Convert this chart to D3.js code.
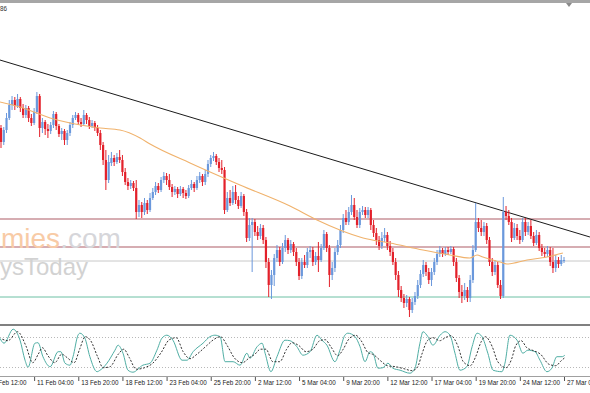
<!DOCTYPE html>
<html><head><meta charset="utf-8">
<script src="https://cdn.jsdelivr.net/npm/d3@7"></script>
<style>body{margin:0;background:#fff;}svg{display:block}</style>
</head><body><svg id="c" width="590" height="393"></svg>
<script>
// ---- data (H4 bars, price in chart points) ----
const open=[272,258,270,282,295,300,294,301,292,285,292,282,277,288,304,272,278,271,269,275,286,274,266,269,260,267,275,282,285,278,276,285,280,274,277,272,267,255,240,220,237,242,238,243,240,228,218,214,217,212,188,195,188,197,190,202,208,214,210,220,224,220,213,208,211,206,211,207,204,212,216,212,220,224,218,226,236,242,244,238,232,230,190,202,197,208,200,194,204,188,162,175,178,168,164,172,160,138,115,125,142,150,138,152,160,150,156,148,138,124,138,135,148,150,138,144,140,152,166,152,125,132,148,155,170,182,178,188,195,183,175,188,190,185,190,175,167,160,154,162,165,154,148,138,125,110,102,97,101,90,98,104,115,126,135,128,120,128,138,146,150,146,150,148,151,138,122,108,104,110,102,120,150,178,172,168,174,160,138,128,135,115,104,188,184,178,162,172,164,160,178,168,174,164,157,165,152,148,146,150,138,132,140,136,139];
const high=[275,273,287,300,304,303,306,303,296,295,294,286,292,308,306,282,280,276,278,289,288,276,272,271,270,278,285,288,287,282,290,287,283,280,279,275,270,258,250,245,248,245,247,250,245,232,222,220,219,220,200,198,202,200,207,212,218,217,223,228,227,226,216,214,213,214,213,210,215,220,218,224,228,226,230,240,245,248,246,242,240,233,208,210,214,215,204,208,206,191,182,182,181,174,176,175,163,142,130,146,155,153,157,165,162,160,158,152,142,142,145,152,154,153,148,158,156,170,168,155,138,152,160,175,186,190,193,205,202,190,192,194,193,193,192,180,172,164,168,172,168,159,152,142,129,114,106,105,103,102,108,120,130,140,138,132,132,142,150,154,152,153,153,154,153,142,125,115,117,113,125,155,197,182,180,178,177,163,142,140,138,120,203,194,190,182,177,176,170,182,182,178,180,168,170,168,156,152,154,153,152,145,143,145,143];
const low=[252,255,267,280,290,290,292,288,282,282,278,274,275,286,263,267,265,262,266,272,270,263,260,255,255,264,272,280,275,273,274,276,271,272,269,264,250,235,210,217,234,234,236,237,224,215,210,211,209,181,183,182,185,186,188,200,205,207,208,217,215,210,203,205,202,204,202,201,202,210,208,210,217,214,215,223,233,239,235,228,226,186,188,194,195,196,191,192,184,158,159,128,164,160,161,156,132,103,101,114,138,134,136,148,146,147,144,134,120,121,132,132,142,134,135,128,138,150,148,113,120,128,145,152,167,175,175,185,180,172,172,185,182,182,170,163,155,150,151,158,150,144,135,120,103,98,92,93,83,87,95,101,112,123,124,116,114,125,135,143,143,144,145,146,134,118,102,97,100,98,98,117,148,168,164,164,156,134,124,125,112,101,102,180,175,158,160,160,156,158,164,165,161,154,155,149,144,143,143,134,127,128,132,134,137];
const close=[258,270,282,295,300,294,301,292,285,292,282,277,288,304,272,278,271,269,275,286,274,266,269,260,267,275,282,285,278,276,285,280,274,277,272,267,255,240,220,238,242,238,243,240,228,218,214,217,212,188,195,188,197,190,202,208,214,210,220,224,220,213,208,211,206,211,207,204,212,216,212,220,224,218,226,236,242,244,238,232,230,190,202,197,208,200,194,204,188,162,175,178,168,164,172,160,138,115,125,142,150,138,152,160,150,156,148,138,124,138,135,148,150,138,144,140,152,166,152,125,132,148,155,170,182,178,188,195,183,175,188,190,185,190,175,167,160,154,162,165,154,148,138,125,110,102,97,101,90,98,104,115,126,135,128,120,128,138,146,150,146,150,148,151,138,122,108,104,110,102,120,150,178,172,168,174,160,138,128,135,115,104,188,184,178,162,172,164,160,178,168,174,164,157,165,152,148,146,150,138,132,140,136,140,140];

// moving average, read at sample bars
const maBar=[-0.4,6.9,17.8,35.9,43.1,50.4,54,68.5,86.6,104.7,114.5,122.8,131.2,140.9,152.9,162.7,169.9,172.5,174.6,180.8,183.3,190.6,197.8,203.6];
const maVal=[298,293,282,272,270,262,256,237,215,194,180,170,162,157,150,145,142,145,143,138,136,140,143,147];

// horizontal levels and trend line
const levels=[181,153,139,103];
const trendBar=[-0.4,213.4];
const trendVal=[340,163];

// stochastic %K / %D samples
const kBar=[-0.4,1.1,4.4,6.9,8.7,9.8,12.3,13.4,15.2,17.8,20.7,21.7,23.2,25,26.1,27.9,28.6,30.4,32.2,34.8,35.9,38.4,41.3,42.4,44.2,46,47.8,51.4,54,56.5,58.3,60.1,62.3,65.6,67.4,69.6,73.2,75.7,77.5,79.4,81.2,84.1,86.6,89.1,90.2,92.8,94.6,95.7,97.8,100,102.9,104.7,107.2,109.4,112,114.5,116.3,118.1,121,122.8,124.6,125.7,128.3,130.1,131.9,133.7,134.8,136.6,138.4,140.2,142,144.6,148.2,150,151.8,152.9,154.7,156.5,159.1,160.9,162.7,164.5,166.3,168.8,170.7,172.5,174.3,176.4,178.3,181.5,182.6,184.4,187,189.1,190.9,193.5,195.3,197.8,199.6,201.4,203.3,204.3];
const kVal=[77,67,95,73,33,19,67,68,40,20,50,50,27,23,40,83,87,77,40,10,13,27,53,63,47,13,9,23,27,53,77,83,73,33,33,50,67,80,83,80,30,30,23,47,37,60,67,47,10,40,73,72,60,43,50,83,73,63,30,53,83,87,80,60,30,50,47,17,18,27,17,13,7,17,67,90,80,63,83,90,83,47,13,20,60,87,80,47,13,10,27,83,73,47,53,50,33,10,17,40,40,43];
const dBar=[0.5,2.5,6,9,11.5,13.5,15,17,19.5,22,24,26.5,28.5,30.5,32.5,35,37,39.5,42.5,44.5,46.5,49,52,55,58,61,63.5,66,68.5,71,74.5,77,79.5,82,84.5,87.5,90,92,94,96,98.5,101,103.5,105.5,108,110.5,113,115.5,117.5,119.5,122,124,126,128.5,130.5,133,135,137.5,140,143,146,149,151,152.5,154.5,156.5,159,161,163,165.5,167.5,170,172,174,175.5,178,180,183,185,186.5,188.5,190.5,193,195.5,198.5,201,203,204.3];
const dVal=[75,72,90,62,28,45,58,42,28,45,38,28,55,80,72,40,18,20,45,55,38,15,18,27,48,74,78,50,36,45,62,74,80,62,38,28,38,45,55,55,30,30,55,68,62,50,55,72,74,60,42,55,75,83,72,48,44,32,22,20,16,12,20,45,72,78,72,78,82,62,30,22,40,70,80,60,30,18,35,62,72,58,52,45,25,22,32,38];
const stochLevels=[80,20];

// time axis
const labelBars=[-4,12,28,44,60,76,92,108,124,140,156,172,188,204];
const timeLabels=["6 Feb 12:00","11 Feb 04:00","13 Feb 20:00","18 Feb 12:00","23 Feb 04:00","25 Feb 20:00","2 Mar 12:00","5 Mar 04:00","9 Mar 20:00","12 Mar 12:00","17 Mar 04:00","19 Mar 20:00","24 Mar 12:00","27 Mar 04:00"];

// ---- drawing ----
const svg=d3.select('#c');
const BLUE='#6a98dc', RED='#e3202a';
const FONT='Liberation Sans, Arial, sans-serif';
const x=d3.scaleLinear().domain([0,204]).range([1,564]);
const y=d3.scaleLinear().domain([77,396]).range([323,4]);
const yo=d3.scaleLinear().domain([0,100]).range([376.7,326.7]);

svg.append('rect').attr('width',590).attr('height',393).attr('fill','#fff');
const defs=svg.append('defs');
defs.append('clipPath').attr('id','cm').append('rect').attr('x',0).attr('y',3).attr('width',590).attr('height',321);
defs.append('clipPath').attr('id','co').append('rect').attr('x',0).attr('y',326).attr('width',590).attr('height',50);

const main=svg.append('g').attr('clip-path','url(#cm)');
const levelColors=['#c99298','#c99298','#c8c8c8','#6cc0a4'];
main.selectAll('line.lvl').data(levels).join('line').attr('class','lvl')
  .attr('x1',0).attr('x2',590).attr('y1',d=>y(d)).attr('y2',d=>y(d))
  .attr('stroke',(d,i)=>levelColors[i]).attr('stroke-width',(d,i)=>i<2?1.3:1);

main.append('line').attr('x1',x(trendBar[0])).attr('y1',y(trendVal[0]))
  .attr('x2',x(trendBar[1])).attr('y2',y(trendVal[1])).attr('stroke','#1a1a1a').attr('stroke-width',1);

// watermark (only the visible part)
const wm=main.append('g').attr('font-family',FONT);
const t1=wm.append('text').attr('x',1).attr('y',248).attr('font-size',28);
t1.append('tspan').attr('fill','#f8cba6').text('mies');
t1.append('tspan').attr('fill','#d6d6da').text('.com');
wm.append('text').attr('x',0).attr('y',275).attr('font-size',24).attr('fill','#d2d2d2').text('ysToday');

const idx=d3.range(open.length);
const cg=main.append('g');
cg.selectAll('line.w').data(idx).join('line').attr('class','w')
  .attr('x1',i=>x(i)).attr('x2',i=>x(i)).attr('y1',i=>y(high[i])).attr('y2',i=>y(low[i]))
  .attr('stroke',i=>close[i]>=open[i]?BLUE:RED).attr('stroke-width',1);
cg.selectAll('rect.b').data(idx).join('rect').attr('class','b')
  .attr('x',i=>x(i)-1.1).attr('width',2.2)
  .attr('y',i=>y(Math.max(open[i],close[i])))
  .attr('height',i=>Math.max(1,y(Math.min(open[i],close[i]))-y(Math.max(open[i],close[i]))))
  .attr('fill',i=>close[i]>=open[i]?BLUE:RED);

main.append('path').datum(d3.range(maBar.length))
  .attr('d',d3.line().x(i=>x(maBar[i])).y(i=>y(maVal[i])).curve(d3.curveMonotoneX))
  .attr('fill','none').attr('stroke','#f0b26c').attr('stroke-width',1.1);

// frame lines
svg.append('rect').attr('x',0).attr('y',0).attr('width',590).attr('height',3).attr('fill','#a6a6a6');
svg.append('rect').attr('x',0).attr('y',324).attr('width',590).attr('height',2).attr('fill','#808080');
svg.append('text').attr('x',0).attr('y',11).attr('font-family',FONT)
  .attr('font-size',6.3).attr('fill','#333').text('86');
svg.append('path').attr('d','M566,3 L572,3 L569,7 Z').attr('fill','#8a8a8a');

// oscillator
const osc=svg.append('g').attr('clip-path','url(#co)');
osc.selectAll('line.sl').data(stochLevels).join('line').attr('class','sl')
  .attr('x1',0).attr('x2',590).attr('y1',d=>Math.round(yo(d))+0.5).attr('y2',d=>Math.round(yo(d))+0.5)
  .attr('stroke','#b8b8b8').attr('stroke-dasharray','1,2');
osc.append('path').datum(d3.range(kBar.length))
  .attr('d',d3.line().x(i=>x(kBar[i])).y(i=>yo(kVal[i])).curve(d3.curveMonotoneX))
  .attr('fill','none').attr('stroke','#4faea4').attr('stroke-width',1);
osc.append('path').datum(d3.range(dBar.length))
  .attr('d',d3.line().x(i=>x(dBar[i])).y(i=>yo(dVal[i])).curve(d3.curveMonotoneX))
  .attr('fill','none').attr('stroke','#333').attr('stroke-width',1).attr('stroke-dasharray','2,1.6');

svg.append('line').attr('x1',0).attr('x2',590).attr('y1',376.5).attr('y2',376.5).attr('stroke','#a0a0a0');

const ax=d3.axisBottom(x).tickValues(labelBars).tickFormat((d,i)=>timeLabels[i]).tickSize(4);
const ag=svg.append('g').attr('transform','translate(0,377)').call(ax);
ag.select('.domain').remove();
ag.selectAll('line').attr('stroke','#555');
ag.selectAll('text').attr('text-anchor','start').attr('dx',2.5).attr('y',3.6)
  .attr('font-family',FONT).attr('font-size',6.3).attr('fill','#222');
</script></body></html>
